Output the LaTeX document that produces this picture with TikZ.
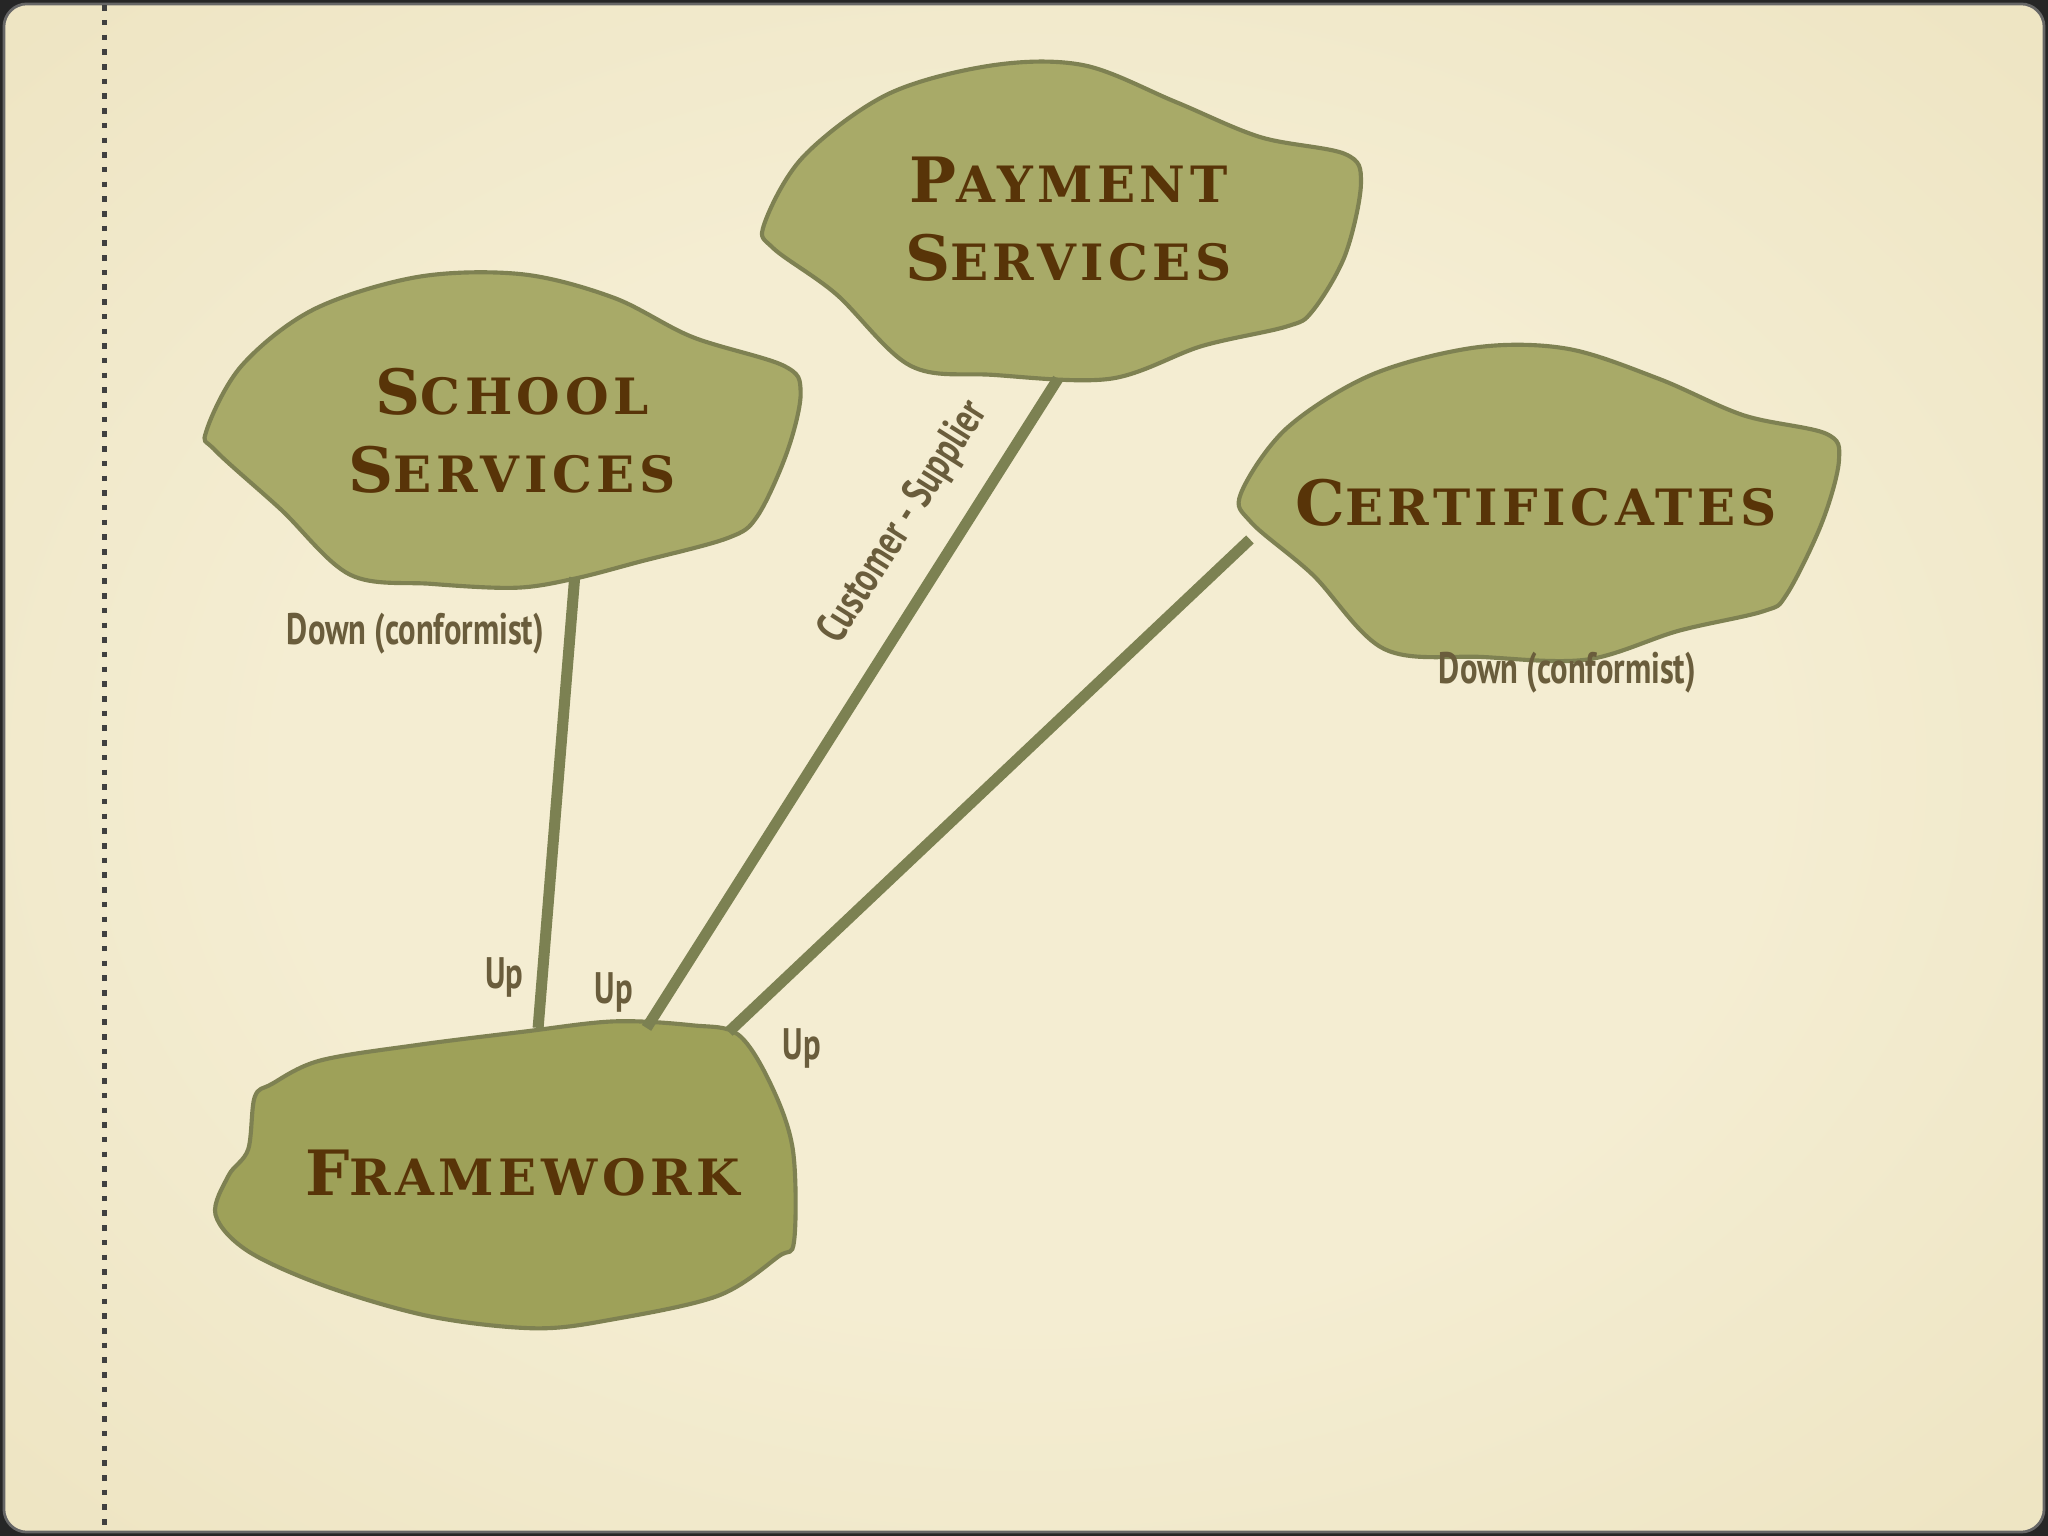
\documentclass[tikz,border=0pt]{standalone}
\usepackage{fontspec}
\usepackage{tikz}
\usetikzlibrary{calc}
\newfontfamily\notefont[FakeStretch=0.74]{PT Sans Bold}
\newfontfamily\titlefont[LetterSpace=9]{DejaVu Serif Bold}
\definecolor{bgin}{RGB}{244,237,210}
\definecolor{bgmid}{RGB}{236,226,190}
\definecolor{bgout}{RGB}{220,203,158}
\definecolor{blobfill}{RGB}{168,170,104}
\definecolor{fwfill}{RGB}{158,161,89}
\definecolor{blobline}{RGB}{126,129,82}
\definecolor{linkcol}{RGB}{124,129,82}
\definecolor{titlebrown}{RGB}{88,52,8}
\definecolor{notecol}{RGB}{106,93,60}
\pgfdeclareradialshading{paper}{\pgfpoint{0bp}{0bp}}{color(0bp)=(bgin); color(18bp)=(bgin); color(40bp)=(bgmid); color(58bp)=(bgout); color(72bp)=(bgout)}
\def\blobword#1#2{{\fontsize{13.6}{17}\selectfont #1}{\fontsize{10.9}{17}\selectfont #2}}

\begin{document}
\begin{tikzpicture}[x=0.01cm,y=-0.01cm,
    blob/.style={draw=blobline, line width=0.9pt, fill=blobfill},
    title/.style={align=center, text=titlebrown, font=\titlefont\fontsize{13.6}{17}\selectfont, inner sep=1pt},
    link/.style={draw=linkcol, line width=2.4pt},
    note/.style={text=notecol, font=\notefont\fontsize{9.6}{11}\selectfont, inner sep=1pt}]

\useasboundingbox (0,0) rectangle (1568,1176);

% paper
\fill[black!85] (0,0) rectangle (1568,1176);
\shade[shading=paper, rounded corners=5pt, draw=black!60, line width=0.6pt] (3,3) rectangle (1565,1173);
\draw[black!75, line width=1.2pt, dotted] (80,4) -- (80,1172);

% contexts
\draw[blob] plot[smooth cycle, tension=0.55] coordinates {(158,330) (185,280) (240,237) (320,212) (400,210) (470,228) (530,258) (600,280) (613,300) (603,345) (580,395) (557,412) (490,430) (440,443) (395,450) (330,447) (268,440) (215,390) (165,345)};
\draw[blob] plot[smooth cycle, tension=0.55] coordinates {(585,172) (615,120) (680,72) (760,50) (830,50) (900,78) (965,105) (1030,118) (1042,140) (1030,195) (1005,238) (985,250) (920,265) (850,290) (760,287) (697,280) (640,225) (592,190)};
\draw[blob] plot[smooth cycle, tension=0.55] coordinates {(950,378) (985,328) (1050,287) (1130,266) (1200,267) (1270,290) (1335,318) (1398,332) (1408,352) (1395,400) (1368,455) (1350,468) (1285,483) (1215,505) (1135,503) (1060,497) (1005,440) (958,400)};
\draw[blob, fill=fwfill] plot[smooth cycle, tension=0.55] coordinates {(208,830) (245,812) (320,800) (400,790) (470,782) (530,785) (565,792) (590,830) (607,880) (608,950) (596,962) (550,992) (470,1010) (410,1017) (330,1008) (250,985) (190,958) (165,930) (175,900) (190,880) (195,840)};

\node[title] (school) at (392,330) {\blobword{S}{CHOOL}\\\blobword{S}{ERVICES}};
\node[title] (payment) at (818,168) {\blobword{P}{AYMENT}\\\blobword{S}{ERVICES}};
\node[title] (certs) at (1176,385) {\blobword{C}{ERTIFICATES}};
\node[title] (framework) at (400,898) {\blobword{F}{RAMEWORK}};

% connection points
\coordinate (school-s) at (440,442);
\coordinate (payment-s) at (810,290);
\coordinate (certs-w) at (957,413);
\coordinate (fw-a) at (412,787);
\coordinate (fw-b) at (495,787);
\coordinate (fw-c) at (558,790);

\draw[link] (school-s) -- (fw-a);
\draw[link] (fw-b) -- node[note, sloped, above=5pt, pos=0.735] (cs) {Customer - Supplier} (payment-s);
\draw[link] (certs-w) -- (fw-c);

\node[note] (school-down) at (318,485) {Down (conformist)};
\node[note] (certs-down) at (1200,515) {Down (conformist)};
\node[note] (up-a) at (386,748) {Up};
\node[note] (up-b) at (470,760) {Up};
\node[note] (up-c) at (614,803) {Up};

\end{tikzpicture}
\end{document}
